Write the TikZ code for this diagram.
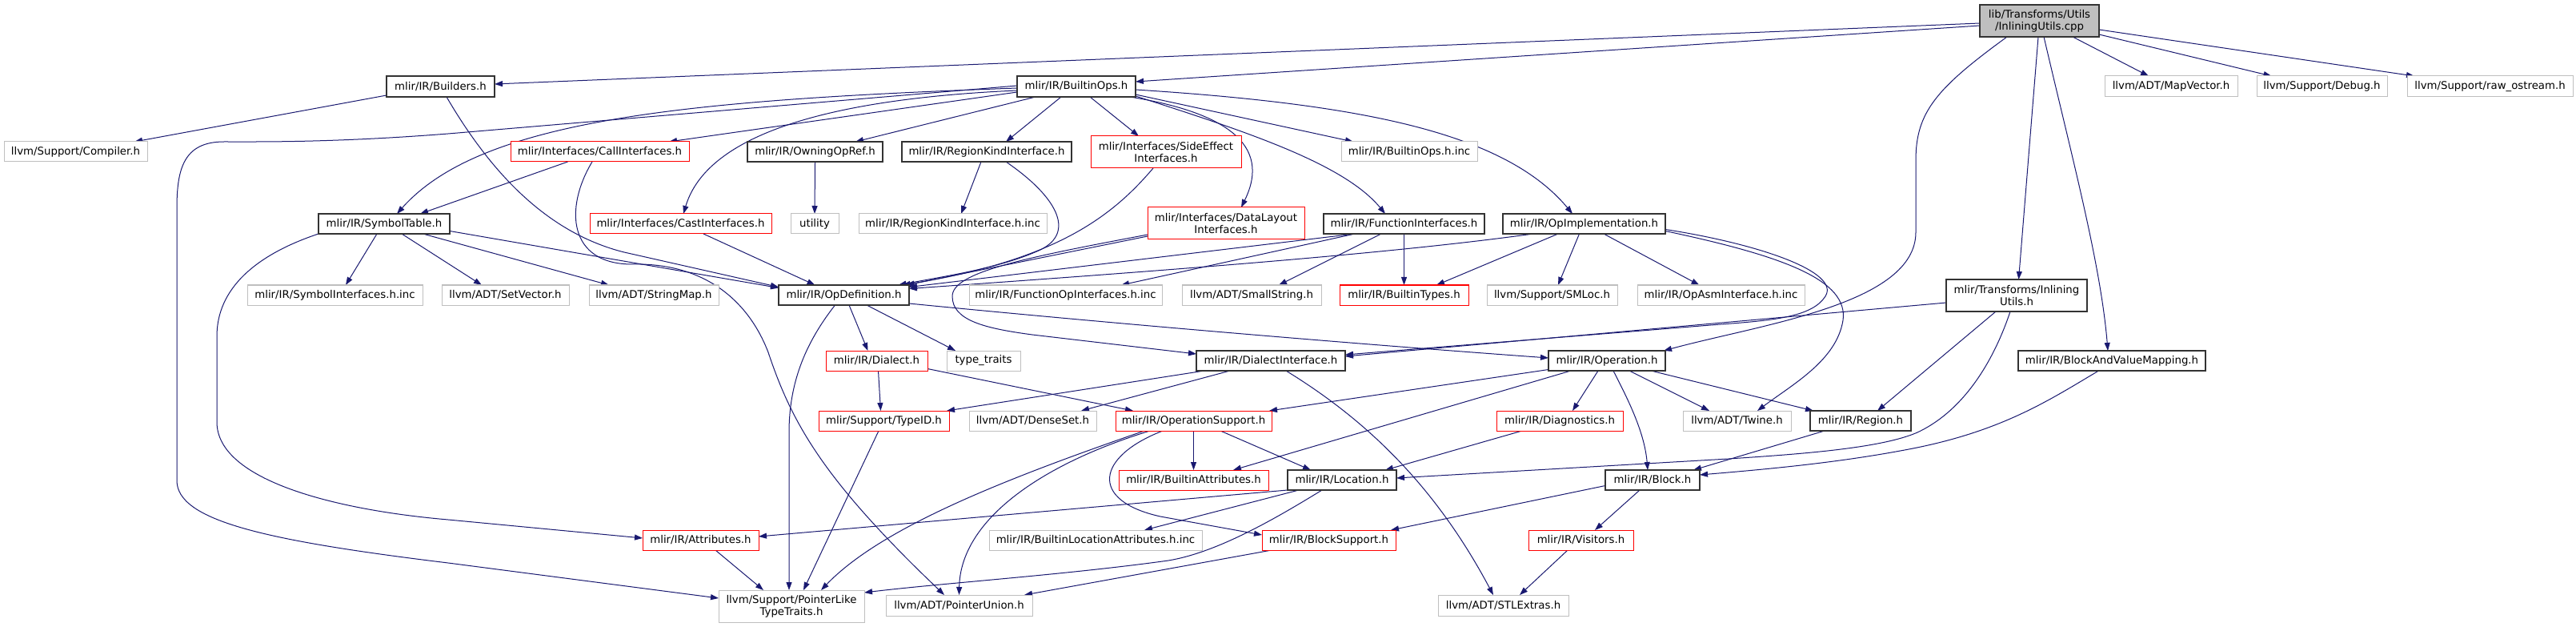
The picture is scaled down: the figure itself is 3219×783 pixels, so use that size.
\documentclass[tikz,border=0pt]{standalone}
\usepackage{fontspec}
\setmainfont{DejaVu Sans}
\usetikzlibrary{arrows.meta}
\definecolor{edgec}{HTML}{191970}
\definecolor{boxgray}{HTML}{BFBFBF}
\definecolor{boxdark}{HTML}{333333}
\definecolor{boxred}{HTML}{FF0000}
\pgfdeclarelayer{bg}
\pgfsetlayers{bg,main}
\tikzset{
 nbase/.style={rectangle, inner sep=0pt, outer sep=0pt, align=center, fill=white, font=\fontsize{13.3}{15.3}\selectfont, line width=1pt},
 bk/.style={nbase, draw=boxdark, line width=1.2pt},
 gy/.style={nbase, draw=boxgray},
 rd/.style={nbase, draw=boxred},
 rt/.style={nbase, draw=boxdark, line width=1.2pt, fill=boxgray},
 edge/.style={draw=edgec, line width=1pt, -{Triangle[length=10pt,width=7pt]}},
}
\newcommand\mkbox[7]{\node[#1, minimum width={#4-#2}, minimum height={#5-#3}] (#6) at ({(#2+#4)/2},{(#3+#5)/2}) {#7};}
\begin{document}
\begin{tikzpicture}[x=1pt,y=-1pt]
\useasboundingbox (0,0) rectangle (3219,783);
\mkbox{rt}{2474}{6}{2623}{46}{root}{lib/Transforms/Utils\\/InliningUtils.cpp}
\mkbox{bk}{483}{95}{618}{121}{builders}{mlir/IR/Builders.h}
\mkbox{bk}{1271}{95}{1419}{121}{builtinops}{mlir/IR/BuiltinOps.h}
\mkbox{gy}{2630}{95}{2796}{121}{mapvector}{llvm/ADT/MapVector.h}
\mkbox{gy}{2820}{95}{2983}{121}{debug}{llvm/Support/Debug.h}
\mkbox{gy}{3008}{95}{3215}{121}{rawostream}{llvm/Support/raw\_ostream.h}
\mkbox{gy}{5}{177}{184}{202}{compiler}{llvm/Support/Compiler.h}
\mkbox{rd}{638}{177}{861}{202}{callif}{mlir/Interfaces/CallInterfaces.h}
\mkbox{bk}{934}{177}{1103}{202}{owning}{mlir/IR/OwningOpRef.h}
\mkbox{bk}{1127}{177}{1339}{202}{regionkind}{mlir/IR/RegionKindInterface.h}
\mkbox{rd}{1363}{170}{1551}{210}{sideeffect}{mlir/Interfaces/SideEffect\\Interfaces.h}
\mkbox{gy}{1676}{177}{1846}{202}{builtinopsinc}{mlir/IR/BuiltinOps.h.inc}
\mkbox{bk}{398}{267}{562}{292}{symboltable}{mlir/IR/SymbolTable.h}
\mkbox{rd}{737}{267}{964}{292}{castif}{mlir/Interfaces/CastInterfaces.h}
\mkbox{gy}{988}{267}{1048}{292}{utility}{utility}
\mkbox{gy}{1073}{267}{1308}{292}{regionkindinc}{mlir/IR/RegionKindInterface.h.inc}
\mkbox{rd}{1434}{259}{1630}{299}{datalayout}{mlir/Interfaces/DataLayout\\Interfaces.h}
\mkbox{bk}{1654}{267}{1855}{292}{funcif}{mlir/IR/FunctionInterfaces.h}
\mkbox{bk}{1878}{267}{2081}{292}{opimpl}{mlir/IR/OpImplementation.h}
\mkbox{bk}{2432}{349}{2608}{389}{inliningh}{mlir/Transforms/Inlining\\Utils.h}
\mkbox{gy}{309}{356}{528}{381}{symbolinc}{mlir/IR/SymbolInterfaces.h.inc}
\mkbox{gy}{552}{356}{711}{381}{setvector}{llvm/ADT/SetVector.h}
\mkbox{gy}{736}{356}{898}{381}{stringmap}{llvm/ADT/StringMap.h}
\mkbox{bk}{973}{356}{1136}{381}{opdef}{mlir/IR/OpDefinition.h}
\mkbox{gy}{1211}{356}{1452}{381}{funcopinc}{mlir/IR/FunctionOpInterfaces.h.inc}
\mkbox{gy}{1477}{356}{1651}{381}{smallstring}{llvm/ADT/SmallString.h}
\mkbox{rd}{1674}{356}{1835}{381}{builtintypes}{mlir/IR/BuiltinTypes.h}
\mkbox{gy}{1858}{356}{2021}{381}{smloc}{llvm/Support/SMLoc.h}
\mkbox{gy}{2046}{356}{2255}{381}{opasminc}{mlir/IR/OpAsmInterface.h.inc}
\mkbox{rd}{1032}{438}{1159}{463}{dialect}{mlir/IR/Dialect.h}
\mkbox{gy}{1183}{438}{1275}{463}{typetraits}{type\_traits}
\mkbox{bk}{1495}{438}{1681}{463}{dialectif}{mlir/IR/DialectInterface.h}
\mkbox{bk}{1935}{438}{2081}{463}{operation}{mlir/IR/Operation.h}
\mkbox{bk}{2522}{438}{2756}{463}{bvm}{mlir/IR/BlockAndValueMapping.h}
\mkbox{rd}{1023}{513}{1186}{538}{typeid}{mlir/Support/TypeID.h}
\mkbox{gy}{1211}{513}{1370}{538}{denseset}{llvm/ADT/DenseSet.h}
\mkbox{rd}{1394}{513}{1589}{538}{opsupport}{mlir/IR/OperationSupport.h}
\mkbox{rd}{1870}{513}{2028}{538}{diagnostics}{mlir/IR/Diagnostics.h}
\mkbox{gy}{2103}{513}{2238}{538}{twine}{llvm/ADT/Twine.h}
\mkbox{bk}{2262}{513}{2388}{538}{region}{mlir/IR/Region.h}
\mkbox{rd}{1398}{587}{1585}{612}{builtinattr}{mlir/IR/BuiltinAttributes.h}
\mkbox{bk}{1609}{587}{1745}{612}{location}{mlir/IR/Location.h}
\mkbox{bk}{2006}{587}{2124}{612}{block}{mlir/IR/Block.h}
\mkbox{rd}{803}{662}{948}{687}{attributes}{mlir/IR/Attributes.h}
\mkbox{gy}{1236}{662}{1502}{687}{builtinlocinc}{mlir/IR/BuiltinLocationAttributes.h.inc}
\mkbox{rd}{1577}{662}{1744}{687}{blocksupport}{mlir/IR/BlockSupport.h}
\mkbox{rd}{1910}{662}{2041}{687}{visitors}{mlir/IR/Visitors.h}
\mkbox{gy}{898}{737}{1080}{777}{pointerlike}{llvm/Support/PointerLike\\TypeTraits.h}
\mkbox{gy}{1107}{743}{1290}{769}{pointerunion}{llvm/ADT/PointerUnion.h}
\mkbox{gy}{1797}{743}{1960}{769}{stlextras}{llvm/ADT/STLExtras.h}
\begin{pgfonlayer}{bg}
\draw[edge] ([yshift=-3]root.west) -- ([yshift=3]builders.east);
\draw[edge] ([yshift=-6]root.west) -- ([yshift=6]builtinops.east);
\draw[edge] ([xshift=-40.5]root.south) .. controls (2420,110) and (2394,140) .. (2394,200) -- (2394,290) .. controls (2394,380) and (2200,405) .. ([xshift=-2]operation.north east);
\draw[edge] ([xshift=-1.5]root.south) -- ([xshift=2.5]inliningh.north);
\draw[edge] ([xshift=5.5]root.south) .. controls (2590,200) and (2625,330) .. ([xshift=-5]bvm.north);
\draw[edge] ([xshift=41.5]root.south) -- ([xshift=-28]mapvector.north);
\draw[edge] ([yshift=-17]root.east) -- ([xshift=-63]debug.north);
\draw[edge] ([yshift=-11]root.east) -- ([xshift=-94.5]rawostream.north);
\draw[edge] ([yshift=-11]builders.west) -- ([xshift=73.5]compiler.north);
\draw[edge] ([xshift=7.5]builders.south) .. controls (610,210) and (680,290) .. (780,315) -- ([yshift=10]opdef.west);
\draw[edge] ([yshift=-7]builtinops.west) -- ([xshift=86.5]callif.north);
\draw[edge] ([yshift=-2]builtinops.west) .. controls (850,125) and (600,150) .. ([xshift=16]symboltable.north);
\draw[edge] ([yshift=1]builtinops.west) -- (560,167) .. controls (420,178) and (330,177) .. (280,177) .. controls (230,177) and (221,210) .. (221,260) -- (221,600) .. controls (221,650) and (330,675) .. (560,703) -- ([yshift=10]pointerlike.west);
\draw[edge] (symboltable.south west) .. controls (320,318) and (271,360) .. (271,420) -- (271,527) .. controls (271,600) and (420,637) .. (560,649) -- ([yshift=2.5]attributes.west);
\draw[edge] ([xshift=-9]symboltable.south) -- ([xshift=13.5]symbolinc.north);
\draw[edge] ([xshift=22]symboltable.south) -- ([xshift=-29.5]setvector.north);
\draw[edge] ([xshift=48.5]symboltable.south) -- ([xshift=-56]stringmap.north);
\draw[edge] ([yshift=-9]symboltable.east) -- ([yshift=9]opdef.west);
\draw[edge] ([xshift=-40]callif.south) -- ([xshift=45]symboltable.north);
\draw[edge] ([xshift=-9.5]callif.south) .. controls (705,260) and (710,330) .. (790,330) .. controls (880,328) and (935,375) .. (960,440) .. controls (990,530) and (1030,600) .. ([xshift=-18.5]pointerunion.north);
\draw[edge] ([yshift=-5]builtinops.west) .. controls (1000,125) and (880,180) .. ([xshift=3.5]castif.north);
\draw[edge] ([xshift=28.5]castif.south) -- ([xshift=-36]opdef.north);
\draw[edge] ([xshift=-51]builtinops.south) -- ([xshift=50.5]owning.north);
\draw[edge] (owning.south) -- (utility.north);
\draw[edge] ([xshift=-19]builtinops.south) -- ([xshift=24]regionkind.north);
\draw[edge] ([xshift=-7]regionkind.south) -- ([xshift=10.5]regionkindinc.north);
\draw[edge] ([xshift=24]regionkind.south) .. controls (1320,245) and (1345,290) .. (1300,312) .. controls (1250,335) and (1180,345) .. ([xshift=68]opdef.north);
\draw[edge] ([xshift=17]builtinops.south) -- ([xshift=-34]sideeffect.north);
\draw[edge] ([xshift=-16]sideeffect.south) .. controls (1390,270) and (1320,325) .. ([xshift=73]opdef.north);
\draw[edge] ([xshift=67]builtinops.south) .. controls (1530,140) and (1590,180) .. ([xshift=19]datalayout.north);
\draw[edge] ([yshift=-16]datalayout.west) -- ([xshift=78]opdef.north);
\draw[edge] ([yshift=-10]builtinops.east) -- ([xshift=-70]builtinopsinc.north);
\draw[edge] ([yshift=-12]builtinops.east) .. controls (1560,165) and (1680,205) .. ([xshift=-23.5]funcif.north);
\draw[edge] ([yshift=-4]builtinops.east) .. controls (1700,130) and (1880,165) .. ([xshift=-14.5]opimpl.north);
\draw[edge] ([xshift=-61.5]funcif.south) -- ([yshift=10]opdef.east);
\draw[edge] ([xshift=-61.5]funcif.south) -- ([xshift=69.5]funcopinc.north);
\draw[edge] ([xshift=-28.5]funcif.south) -- ([xshift=34]smallstring.north);
\draw[edge] (funcif.south) -- (builtintypes.north);
\draw[edge] ([xshift=-63.5]opimpl.south) .. controls (1750,315) and (1500,335) .. ([yshift=8]opdef.east);
\draw[edge] ([xshift=-32.5]opimpl.south) -- ([xshift=40.5]builtintypes.north);
\draw[edge] ([xshift=-6]opimpl.south) -- ([xshift=7.5]smloc.north);
\draw[edge] ([xshift=24.5]opimpl.south) -- ([xshift=-27]opasminc.north);
\draw[edge] ([yshift=-7]opimpl.east) .. controls (2200,305) and (2300,340) .. (2281,370) .. controls (2265,395) and (2220,400) .. (2150,405) -- ([yshift=7.5]dialectif.east);
\draw[edge] ([yshift=-9]opimpl.east) .. controls (2230,320) and (2310,350) .. (2303,400) .. controls (2295,450) and (2240,480) .. ([xshift=25.5]twine.north);
\draw[edge] ([yshift=-14]datalayout.west) .. controls (1280,322) and (1190,340) .. (1190,370) .. controls (1190,400) and (1230,410) .. (1290,418) -- ([yshift=8.5]dialectif.west);
\draw[edge] ([yshift=-9]inliningh.west) -- ([yshift=5.5]dialectif.east);
\draw[edge] ([xshift=-26]inliningh.south) -- ([xshift=21]region.north);
\draw[edge] ([xshift=-8]inliningh.south) .. controls (2495,440) and (2460,510) .. (2396,540) .. controls (2350,560) and (2250,567) .. (2160,573) -- ([yshift=2.5]location.east);
\draw[edge] ([xshift=-16.5]bvm.south) .. controls (2560,500) and (2500,540) .. (2380,562) .. controls (2300,577) and (2220,585) .. ([yshift=6.5]block.east);
\draw[edge] ([xshift=6.5]opdef.south) -- ([xshift=-11]dialect.north);
\draw[edge] ([xshift=28.5]opdef.south) -- ([xshift=-35]typetraits.north);
\draw[edge] ([yshift=-10.5]opdef.east) .. controls (1400,405) and (1700,430) .. ([yshift=3.5]operation.west);
\draw[edge] ([xshift=-11]opdef.south) .. controls (1005,430) and (986,480) .. (986,540) -- ([xshift=-3]pointerlike.north);
\draw[edge] ([xshift=2]dialect.south) -- ([xshift=-4]typeid.north);
\draw[edge] ([yshift=-10]dialect.east) -- ([xshift=-75.5]opsupport.north);
\draw[edge] ([xshift=-83]dialectif.south) -- ([xshift=-3]typeid.north east);
\draw[edge] ([xshift=-51]dialectif.south) -- ([xshift=60.5]denseset.north);
\draw[edge] ([xshift=19]dialectif.south) .. controls (1700,520) and (1790,600) .. ([xshift=-12.5]stlextras.north);
\draw[edge] ([yshift=-11]operation.west) -- ([xshift=-3]opsupport.north east);
\draw[edge] ([xshift=-45]operation.south) -- ([xshift=49.5]builtinattr.north);
\draw[edge] ([xshift=-11]operation.south) -- ([xshift=16]diagnostics.north);
\draw[edge] ([xshift=8]operation.south) .. controls (2035,500) and (2055,540) .. ([xshift=-6]block.north);
\draw[edge] ([xshift=28]operation.south) -- ([xshift=-34.5]twine.north);
\draw[edge] ([xshift=55]operation.south) -- ([xshift=4]region.north west);
\draw[edge] ([xshift=-47]diagnostics.south) -- ([xshift=54]location.north);
\draw[edge] ([xshift=33.5]opsupport.south) -- ([xshift=-39]location.north);
\draw[edge] (opsupport.south) -- (builtinattr.north);
\draw[edge] ([xshift=-38.5]opsupport.south) .. controls (1370,570) and (1360,625) .. (1450,645) -- ([yshift=6.5]blocksupport.west);
\draw[edge] ([xshift=-54.5]opsupport.south) .. controls (1300,580) and (1200,650) .. (pointerunion.north);
\draw[edge] ([xshift=-61.5]opsupport.south) .. controls (1250,600) and (1100,660) .. ([xshift=37]pointerlike.north);
\draw[edge] ([xshift=-45]region.south) -- ([xshift=-8]block.north east);
\draw[edge] ([yshift=-7]block.west) -- ([xshift=-6]blocksupport.north east);
\draw[edge] ([xshift=-16]block.south) -- ([xshift=17.5]visitors.north);
\draw[edge] ([xshift=-16.5]visitors.south) -- ([xshift=20.5]stlextras.north);
\draw[edge] (location.south west) -- ([yshift=4.5]attributes.east);
\draw[edge] ([xshift=-54]location.south) -- ([xshift=61]builtinlocinc.north);
\draw[edge] ([xshift=-25]location.south) .. controls (1590,650) and (1520,690) .. (1460,700) .. controls (1330,718) and (1180,728) .. ([yshift=17]pointerlike.east);
\draw[edge] ([xshift=-71.5]blocksupport.south) -- ([xshift=-10]pointerunion.north east);
\draw[edge] ([xshift=18.5]attributes.south) -- ([xshift=-35]pointerlike.north);
\draw[edge] ([xshift=-6.5]typeid.south) -- ([xshift=15]pointerlike.north);
\end{pgfonlayer}
\end{tikzpicture}
\end{document}
